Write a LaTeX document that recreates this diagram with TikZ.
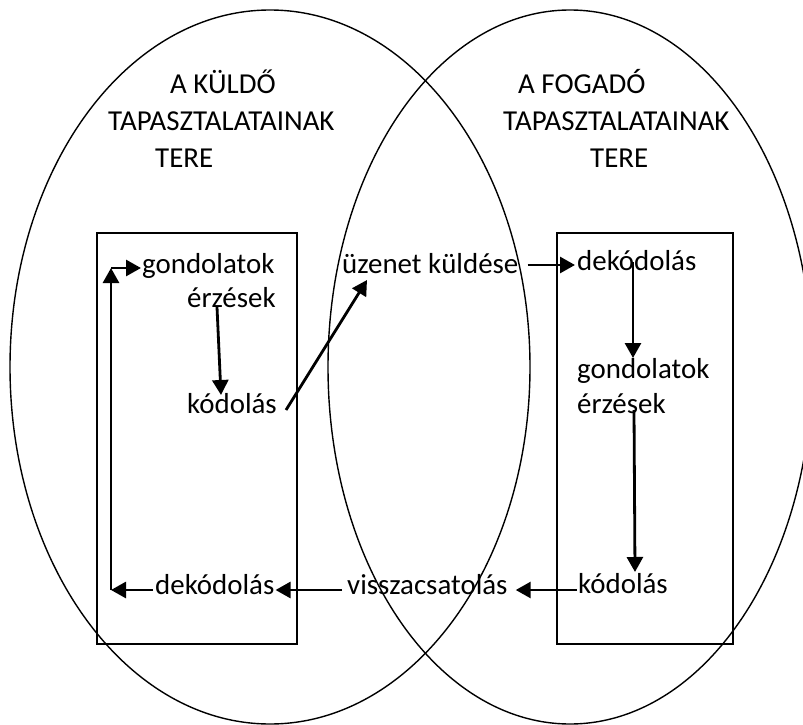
\documentclass[tikz,border=0pt]{standalone}
\usepackage{fontspec}
\setmainfont{Carlito}
\usetikzlibrary{arrows.meta}

\begin{document}
\begin{tikzpicture}[x=1pt, y=-1pt,
		word/.style={inner sep=0pt, anchor=base west, font=\fontsize{28.9}{35}\selectfont},
		flow/.style={line width=2.8pt, -{Triangle[length=15pt, width=16pt]}},
		field/.style={line width=2pt}]
		\useasboundingbox (0,0) rectangle (803,725);
		\clip (0,0) rectangle (803,725);
		\foreach \cx/\rx in {270/260, 570/242}
		{
			\draw[line width=1.4pt] (\cx,367) ellipse [x radius=\rx pt, y radius=357pt];
		}
		\foreach \xa/\xb in {97/297, 557/733}
		{
			\draw[field] (\xa,233) rectangle (\xb,644);
		}

		\node[word] (kuld) at (170,93) {A KÜLDŐ};
		\node[word] (tap1) at (108,130) {TAPASZTALATAINAK};
		\node[word] (tere1) at (155,167) {TERE};
		\node[word] (fog) at (518,93) {A FOGADÓ};
		\node[word] (tap2) at (503,130) {TAPASZTALATAINAK};
		\node[word] (tere2) at (590,167) {TERE};

		\node[word] (gond1) at (142,273) {gondolatok};
		\node[word] (erz1) at (187,307) {érzések};
		\node[word] (kod1) at (187,413) {kódolás};
		\node[word] (dek1) at (155,594) {dekódolás};
		\node[word] (uzen) at (342,273) {üzenet küldése};
		\node[word] (vissza) at (347,594) {visszacsatolás};
		\node[word] (dek2) at (577,270) {dekódolás};
		\node[word] (gond2) at (577,378) {gondolatok};
		\node[word] (erz2) at (577,413) {érzések};
		\node[word] (kod2) at (578,593) {kódolás};

		\coordinate (bal1) at (111,590);
		\coordinate (bal2) at (111,268);

		\draw[flow] ([xshift=30pt]erz1.base west) -- ([xshift=34pt,yshift=18pt]kod1.base west);
		\draw[flow] ([xshift=9pt,yshift=3pt]kod1.base east) -- ([xshift=25pt,yshift=-7pt]uzen.base west);
		\draw[flow] ([xshift=9pt,yshift=8pt]uzen.base east) -- ([xshift=-2pt,yshift=5pt]dek2.base west);
		\draw[flow] ([xshift=56pt,yshift=8pt]dek2.base west) -- ([xshift=56pt,yshift=20pt]gond2.base west);
		\draw[flow] ([xshift=57pt,yshift=3pt]erz2.base west) -- ([xshift=57pt,yshift=21pt]kod2.base west);
		\draw[flow] ([xshift=-1pt,yshift=3pt]kod2.base west) -- ([xshift=8pt,yshift=4pt]vissza.base east);
		\draw[flow] ([xshift=-5pt,yshift=4pt]vissza.base west) -- ([xshift=1pt,yshift=4pt]dek1.base east);
		\draw[flow] ([xshift=-2pt,yshift=4pt]dek1.base west) -- (bal1);
		\draw[flow] (bal1) -- (bal2);
		\draw[flow] (bal2) -- ([xshift=-1pt,yshift=5pt]gond1.base west);
	\end{tikzpicture}
\end{document}
